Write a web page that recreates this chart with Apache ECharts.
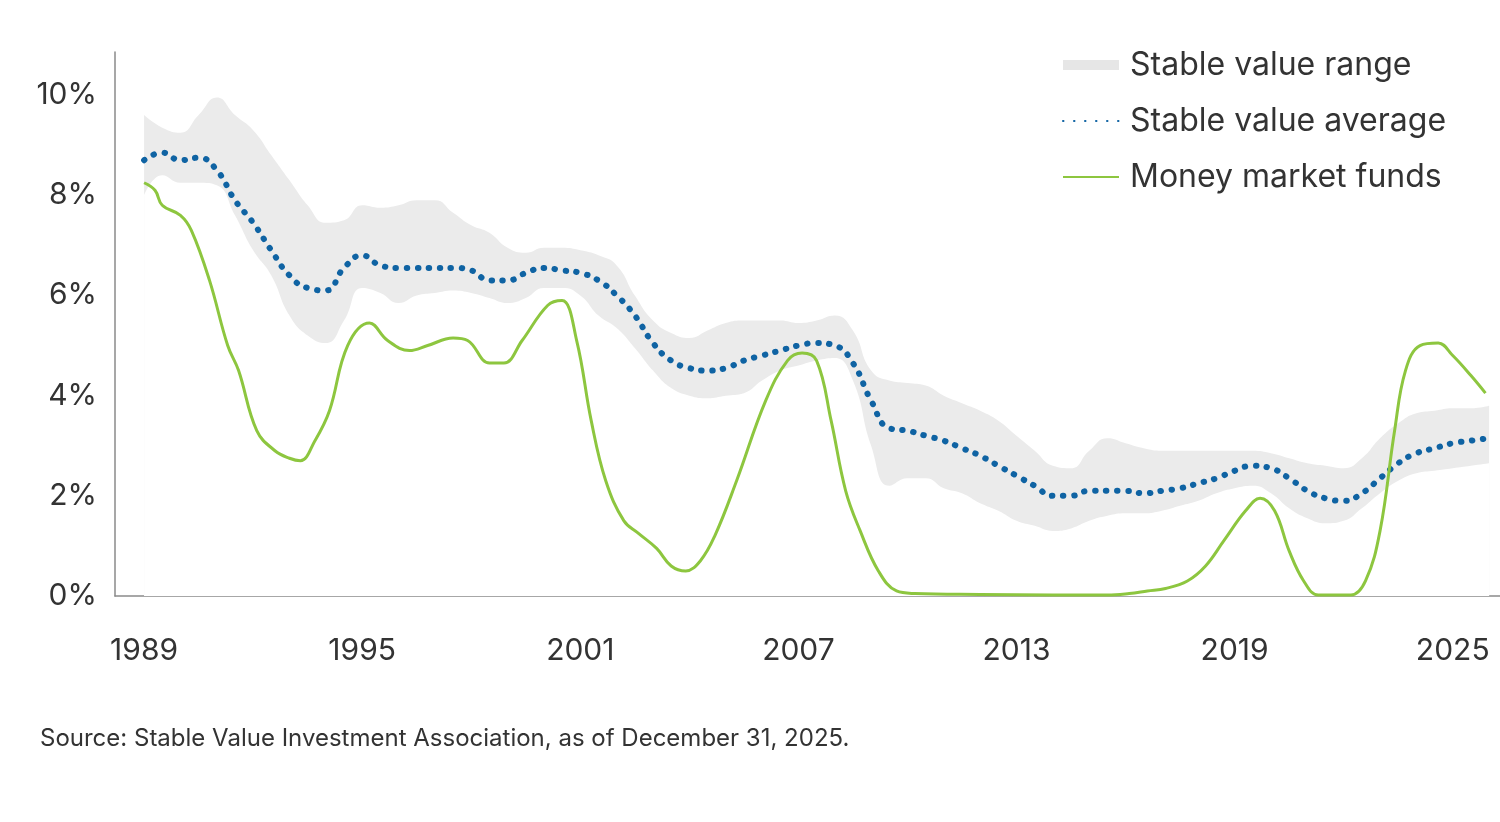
<!DOCTYPE html>
<html>
<head>
<meta charset="utf-8">
<script src="https://cdn.jsdelivr.net/npm/echarts@6/dist/echarts.min.js"></script>
<style>
  html, body { margin: 0; padding: 0; background: #fff; }
  #chart { width: 1500px; height: 822px; }
</style>
</head>
<body>
<div id="chart"></div>
<script>
// ---------------- data ----------------
// half-year grid for the stable value series
const svYears = [];
for (let y = 1989; y <= 2026; y += 0.5) svYears.push(y);

const rangeHigh = [9.6, 9.35, 9.25, 9.6, 9.95, 9.6, 9.3, 8.8, 8.3, 7.8, 7.45, 7.5, 7.8, 7.75, 7.8, 7.9, 7.9, 7.65, 7.4, 7.25,
  6.95, 6.85, 6.95, 6.95, 6.9, 6.8, 6.6, 6.0, 5.5, 5.25, 5.15, 5.3, 5.45, 5.5, 5.5, 5.5, 5.45, 5.5, 5.6, 5.3,
  4.5, 4.3, 4.25, 4.2, 4.0, 3.85, 3.7, 3.5, 3.2, 2.9, 2.6, 2.55, 2.9, 3.15, 3.05, 2.95, 2.9, 2.9, 2.9, 2.9,
  2.9, 2.9, 2.85, 2.75, 2.65, 2.6, 2.55, 2.75, 3.15, 3.45, 3.65, 3.7, 3.75, 3.75, 3.8];
const rangeLow = [8.0, 8.4, 8.25, 8.25, 8.2, 7.6, 6.9, 6.4, 5.6, 5.2, 5.05, 5.5, 6.15, 6.05, 5.85, 6.0, 6.05, 6.1, 6.05, 5.95,
  5.85, 5.95, 6.15, 6.15, 6.0, 5.6, 5.35, 4.95, 4.5, 4.15, 4.0, 3.95, 4.0, 4.05, 4.3, 4.5, 4.6, 4.7, 4.75, 4.3,
  3.0, 2.2, 2.35, 2.35, 2.15, 2.05, 1.85, 1.7, 1.5, 1.4, 1.3, 1.35, 1.5, 1.6, 1.65, 1.65, 1.7, 1.8, 1.9, 2.05,
  2.15, 2.2, 2.05, 1.75, 1.55, 1.45, 1.5, 1.75, 2.05, 2.3, 2.45, 2.5, 2.55, 2.6, 2.65];
const svAverage = [8.7, 8.85, 8.7, 8.75, 8.5, 7.9, 7.45, 6.9, 6.4, 6.15, 6.1, 6.55, 6.8, 6.6, 6.55, 6.55, 6.55, 6.55, 6.5, 6.3,
  6.3, 6.45, 6.55, 6.5, 6.45, 6.3, 6.0, 5.6, 5.05, 4.7, 4.55, 4.5, 4.55, 4.7, 4.8, 4.9, 5.0, 5.05, 5.0, 4.65,
  3.9, 3.35, 3.3, 3.2, 3.1, 2.95, 2.8, 2.6, 2.4, 2.2, 2.0, 2.0, 2.1, 2.1, 2.1, 2.05, 2.1, 2.15, 2.25, 2.35,
  2.5, 2.6, 2.55, 2.35, 2.1, 1.95, 1.9, 2.05, 2.35, 2.65, 2.85, 2.95, 3.05, 3.1, 3.15];

// money market funds
const mmYears = [1989.0, 1989.3, 1989.5, 1990.0, 1990.3, 1990.8, 1991.3, 1991.6, 1992.1, 1992.6, 1993.0, 1993.3, 1993.7,
  1994.1, 1994.6, 1995.2, 1995.7, 1996.3, 1996.8, 1997.5, 1997.9, 1998.5, 1998.9, 1999.4, 2000.1, 2000.5, 2000.9,
  2001.3, 2001.7, 2002.2, 2002.6, 2003.1, 2003.5, 2003.9, 2004.3, 2004.7, 2005.3, 2006.1, 2006.7, 2007.1, 2007.5,
  2007.9, 2008.3, 2008.7, 2009.2, 2009.7, 2010.2, 2012.0, 2014.0, 2015.5, 2016.1, 2016.6, 2017.1, 2017.7, 2018.2,
  2018.7, 2019.3, 2019.7, 2020.1, 2020.5, 2020.9, 2021.3, 2022.2, 2022.6, 2023.0, 2023.4, 2023.7, 2024.1, 2024.6,
  2025.0, 2025.5, 2025.9];
const mmRates = [8.25, 8.1, 7.8, 7.6, 7.3, 6.3, 5.0, 4.5, 3.3, 2.9, 2.75, 2.7, 3.1,
  3.7, 5.0, 5.45, 5.1, 4.9, 5.0, 5.15, 5.1, 4.65, 4.65, 5.1, 5.8, 5.9, 5.1,
  3.5, 2.3, 1.5, 1.25, 0.95, 0.6, 0.5, 0.7, 1.2, 2.3, 3.9, 4.7, 4.85, 4.7,
  3.5, 2.1, 1.3, 0.5, 0.1, 0.05, 0.03, 0.02, 0.02, 0.05, 0.1, 0.15, 0.3, 0.6,
  1.1, 1.7, 1.95, 1.7, 0.9, 0.3, 0.02, 0.02, 0.3, 1.3, 3.3, 4.5, 5.0, 5.05,
  4.8, 4.4, 4.05];

const yearTicks = [1989, 1995, 2001, 2007, 2013, 2019, 2025];
const pctTicks = [0, 2, 4, 6, 8, 10];

// ---------------- chart ----------------
function stableValueChart() {
  let myChart = echarts.init(document.querySelector('#chart'));
  const pair = (xs, ys) => xs.map((x, i) => [x, ys[i]]);
  const font = 'Inter, "Open Sans", sans-serif';

  let option = {
    animation: false,
    textStyle: { fontFamily: font },
    grid: { left: 115, right: 0, top: 52, bottom: 226 },
    xAxis: {
      type: 'value',
      min: 1988.2,
      max: 2026.3,
      axisLine: { lineStyle: { color: '#8a8a8a', width: 1.5 } },
      axisTick: { show: false },
      splitLine: { show: false },
      axisLabel: {
        customValues: yearTicks,
        formatter: v => String(v),
        color: '#333',
        fontSize: 30,
        margin: 40
      }
    },
    yAxis: {
      type: 'value',
      min: 0,
      max: 10.86,
      axisLine: { show: true, lineStyle: { color: '#8a8a8a', width: 1.5 } },
      axisTick: { show: false },
      splitLine: { show: false },
      axisLabel: {
        customValues: pctTicks,
        formatter: v => v + '%',
        color: '#333',
        fontSize: 30,
        margin: 18
      }
    },
    legend: {
      orient: 'vertical',
      left: 1057,
      top: 44,
      itemWidth: 56,
      itemHeight: 10,
      itemGap: 24,
      textStyle: { fontSize: 32, color: '#333', padding: [0, 0, 0, 6] },
      data: [
        { name: 'Stable value range', icon: 'rect', itemStyle: { color: '#e6e6e6' } },
        { name: 'Stable value average', itemStyle: { opacity: 0 } },
        { name: 'Money market funds', itemStyle: { opacity: 0 } }
      ]
    },
    series: [
      {
        name: 'Stable value range',
        type: 'line',
        smooth: true,
        symbol: 'none',
        z: 1,
        lineStyle: { width: 0 },
        itemStyle: { color: '#e6e6e6' },
        areaStyle: { color: '#ebebeb', opacity: 1 },
        data: pair(svYears, rangeHigh)
      },
      {
        name: 'range low',
        type: 'line',
        smooth: true,
        symbol: 'none',
        z: 1,
        lineStyle: { width: 0 },
        areaStyle: { color: '#ffffff', opacity: 1 },
        data: pair(svYears, rangeLow)
      },
      {
        name: 'Stable value average',
        type: 'line',
        smooth: true,
        symbol: 'none',
        z: 3,
        itemStyle: { color: '#0f63a3' },
        lineStyle: { color: '#0f63a3', width: 6, type: [0.5, 10.5], cap: 'round' },
        data: pair(svYears, svAverage)
      },
      {
        name: 'Money market funds',
        type: 'line',
        smooth: 0.4,
        symbol: 'none',
        z: 4,
        itemStyle: { color: '#8dc63f' },
        lineStyle: { color: '#8dc63f', width: 3 },
        data: pair(mmYears, mmRates)
      }
    ],
    graphic: [{
      type: 'text',
      left: 40,
      top: 727,
      style: {
        text: 'Source: Stable Value Investment Association, as of December 31, 2025.',
        fill: '#333',
        font: '24px ' + font
      }
    }]
  };
  myChart.setOption(option);
}
stableValueChart();
</script>
</body>
</html>
